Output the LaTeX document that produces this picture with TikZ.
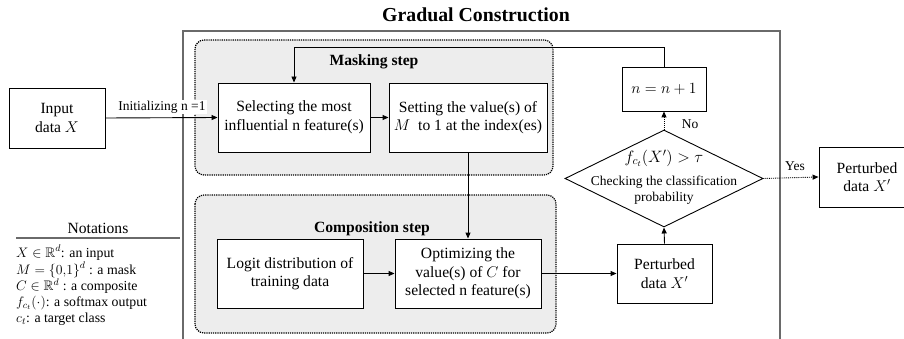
\RequirePackage{fix-cm}
\documentclass[tikz,border=0pt]{standalone}
\usepackage{amssymb}
\usepackage{fontspec}
\setmainfont{Liberation Serif}
\usetikzlibrary{arrows.meta,shapes.geometric}
\definecolor{areafill}{HTML}{EDEDED}
\definecolor{framegray}{HTML}{6A6A6A}
\newcommand{\bodyfont}{\fontsize{15.6}{18.6}\selectfont}
\newcommand{\smallfont}{\fontsize{13.5}{16}\selectfont}
\newcommand{\notefont}{\fontsize{13.8}{16}\selectfont}
\tikzset{
  box/.style={draw=black, line width=0.9pt, fill=white, align=center, inner sep=0pt, font=\bodyfont},
  area/.style={draw=black, line width=1.2pt, densely dotted, rounded corners=9pt, fill=areafill},
  arr/.style={line width=0.9pt, -{Triangle[length=6pt,width=5pt]}},
  lbl/.style={font=\smallfont, inner sep=1pt},
  head/.style={font=\bodyfont\bfseries, inner sep=0pt},
  note/.style={font=\notefont, anchor=base west, inner sep=0pt},
}
\begin{document}
\begin{tikzpicture}[x=1pt,y=-1pt]
\clip (0,0) rectangle (904,339);
\fill[white] (0,0) rectangle (904,339);

% title and frame
\node[font=\fontsize{19.8}{22}\selectfont\bfseries] (title) at (476,15) {Gradual Construction};
\draw[framegray, line width=1.4pt] (183,340) -- (183,31) -- (780,31) -- (780,340);

% areas
\draw[area] (195,40) rectangle (553,175);
\draw[area] (195,195) rectangle (556,333);
\node[head] (mhead) at (374,62) {Masking step};
\node[head] (chead) at (372,229) {Composition step};

% boxes
\node[box, minimum width=96pt, minimum height=60pt] (input) at (57,118) {Input\\data $X$};
\node[box, minimum width=152pt, minimum height=69pt] (select) at (294,117.5) {Selecting the most\\influential n feature(s)};
\node[box, minimum width=158pt, minimum height=69pt] (setv) at (468,117.5) {Setting the value(s) of\\$M$ \ to 1 at the index(es)};
\node[box, minimum width=84pt, minimum height=44pt] (incr) at (664,89) {$n = n+1$};
\node[draw=black, line width=0.9pt, fill=white, shape=diamond, minimum width=198pt, minimum height=97pt, inner sep=0pt] (check) at (664,178.5) {};
\node[font=\fontsize{16.5}{19}\selectfont, inner sep=0pt] (cond) at (664,158) {$f_{c_t}(X') > \tau$};
\node[font=\smallfont, align=center, inner sep=0pt] (ctext) at (664,190) {Checking the classification\\probability};
\node[box, minimum width=95pt, minimum height=59pt] (pertin) at (664.5,273.5) {Perturbed\\data $X'$};
\node[box, minimum width=146pt, minimum height=69pt] (logit) at (290,273.5) {Logit distribution of\\training data};
\node[box, minimum width=146pt, minimum height=69pt] (optim) at (468,273.5) {Optimizing the\\value(s) of $C$ for\\selected n feature(s)};
\node[box, minimum width=96pt, minimum height=60pt] (pertout) at (867,177) {Perturbed\\data $X'$};

% connectors
\draw[arr] (input.east) -- (select.west);
\node[lbl, fill=white] (init) at (162,107) {Initializing n =1};
\draw[arr] (select.east) -- (setv.west);
\draw[arr] (setv.south) -- (optim.north);
\draw[arr] (logit.east) -- (optim.west);
\draw[arr] (optim.east) -- (pertin.west);
\draw[arr] (pertin.north) -- (check.south);
\draw[arr, densely dotted] (check.north) -- (incr.south);
\node[lbl] (nolbl) at (690,124) {No};
\coordinate (loopA) at (664,47);
\coordinate (loopB) at (294,47);
\draw[arr] (incr.north) -- (loopA) -- (loopB) -- (select.north);
\draw[arr, densely dotted] (check.east) -- (pertout.west);
\node[lbl] (yeslbl) at (795,166) {Yes};

% notations
\node[font=\bodyfont, inner sep=0pt] (nothead) at (98,228) {Notations};
\draw[framegray, line width=1.2pt] (16,238) -- (180,238);
\node[note] (n1) at (16,257) {$X \in \mathbb{R}^{d}$: an input};
\node[note] (n2) at (16,274) {$M = \{0{,}1\}^{d}$ : a mask};
\node[note] (n3) at (16,290.5) {$C \in \mathbb{R}^{d}$ : a composite};
\node[note] (n4) at (16,306.5) {$f_{c_t}(\cdot)$: a softmax output};
\node[note] (n5) at (16,322.5) {$c_t$: a target class};
\end{tikzpicture}
\end{document}
